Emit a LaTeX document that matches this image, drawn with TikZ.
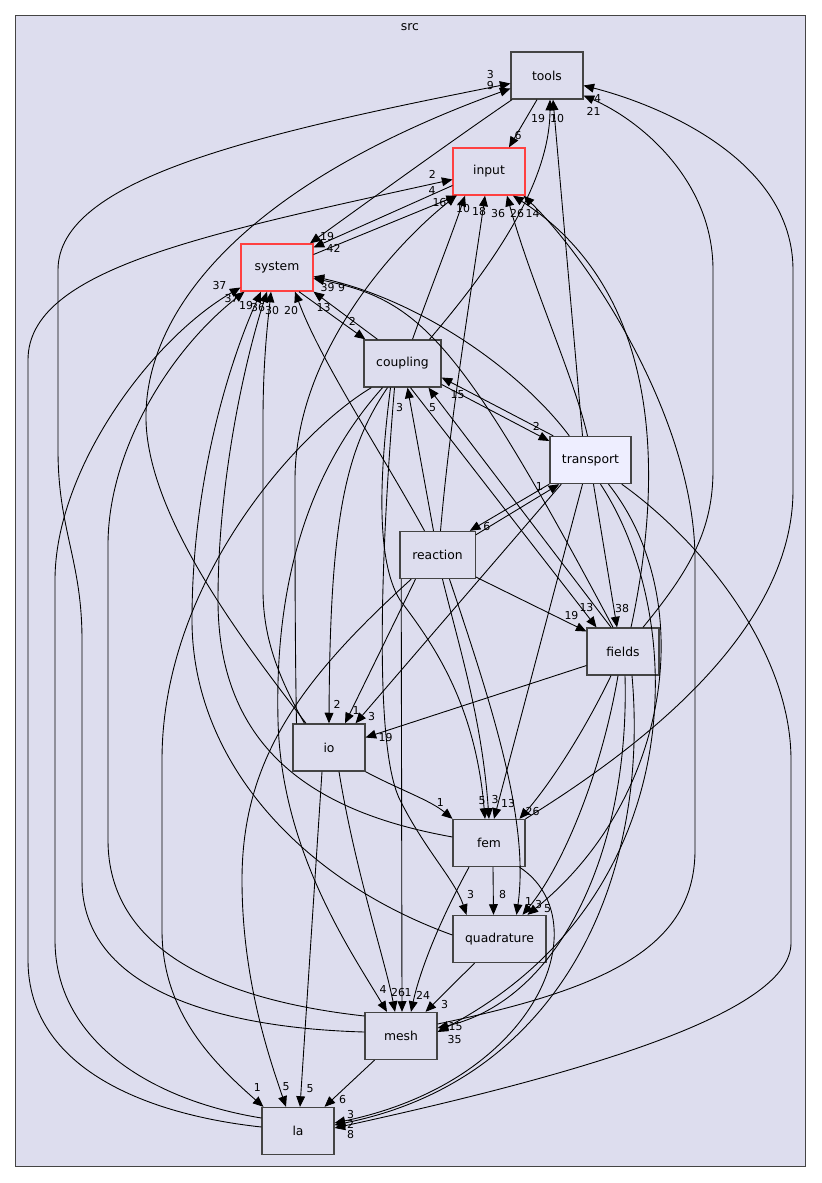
\documentclass[tikz,border=0pt]{standalone}
\usepackage{fontspec}
\setmainfont{DejaVu Sans}
\usepackage{xcolor}
\usepackage{tikz}
\usetikzlibrary{arrows.meta,calc}

\definecolor{srcfill}{HTML}{DDDDEE}
\definecolor{lightfill}{HTML}{EEEEFF}
\definecolor{boxgray}{HTML}{444444}
\definecolor{hotred}{HTML}{FF4040}

\begin{document}
\begin{tikzpicture}[
  x=0.85pt,y=-0.85pt,
  dirbox/.style={rectangle,draw=boxgray,fill=srcfill,line width=1.1pt,minimum width=61pt,minimum height=40pt,inner sep=0pt,font=\fontsize{10.5}{12}\selectfont},
  hotbox/.style={dirbox,draw=hotred},
  dep/.style={-{Triangle[length=9pt,width=7.5pt]},line width=0.75pt},
  lbl/.style={inner sep=0pt,font=\fontsize{9.3}{10}\selectfont},
]
\fill[white] (0,0) rectangle (821,1183);
\useasboundingbox (0,0) rectangle (821,1183);
\draw[boxgray,fill=srcfill,line width=0.8pt] (15,15) rectangle (805,1166);
\node[font=\fontsize{10.5}{12}\selectfont] (srclabel) at (410,27) {src};

\node[dirbox] (tools) at (547,75.5) {tools};
\node[hotbox] (input) at (489,171.5) {input};
\node[hotbox] (system) at (277,267.5) {system};
\node[dirbox,minimum width=65.5pt] (coupling) at (402.5,363.5) {coupling};
\node[dirbox,fill=lightfill,minimum width=69pt] (transport) at (590.5,460) {transport};
\node[dirbox,minimum width=64pt] (reaction) at (437.5,555) {reaction};
\node[dirbox] (fields) at (623,651.5) {fields};
\node[dirbox] (io) at (329,747.5) {io};
\node[dirbox] (fem) at (489,843) {fem};
\node[dirbox,minimum width=79pt] (quadrature) at (499.5,939) {quadrature};
\node[dirbox] (mesh) at (401,1036) {mesh};
\node[dirbox] (la) at (298,1131) {la};

% tools, input, system
\draw[dep] ($(tools.south)+(-10,0)$) -- ($(input.north)+(20,0)$) node[lbl,shift={(9,-12)}] {6};
\draw[dep] ($(tools.south)+(-35,0)$) .. controls (460,135) and (370,200) .. ($(system.north)+(33,0)$) node[lbl,shift={(17,-7)}] {19};
\draw[dep] ($(input.west)+(0,14)$) -- ($(system.east)+(0,-20)$) node[lbl,shift={(20,1)}] {42};
\draw[dep] ($(system.east)+(0,-13)$) -- ($(input.south)+(-32,0)$) node[lbl,shift={(-25,-5)}] {4};
\draw[dep] ($(system.south)+(22,0)$) -- ($(coupling.north west)+(2,0)$) node[lbl,shift={(-13,-18)}] {2};

% la, mesh
\draw[dep] ($(la.west)+(0,-4)$) .. controls (150,1115) and (28,1070) .. (28,960) -- (28,360) .. controls (28,270) and (200,235) .. ($(input.west)+(0,8)$) node[lbl,shift={(-20,-5)}] {2};
\draw[dep] ($(la.west)+(0,-13)$) .. controls (150,1100) and (55,1040) .. (55,940) -- (55,580) .. controls (55,470) and (150,340) .. ($(system.west)+(0,20)$) node[lbl,shift={(-21,-2)}] {37};
\draw[dep] ($(mesh.west)+(0,-4)$) .. controls (220,1028) and (82,990) .. (82,880) -- (82,640) .. controls (82,560) and (58,530) .. (58,450) -- (58,270) .. controls (58,180) and (250,135) .. ($(tools.west)+(0,8)$) node[lbl,shift={(-20,-9)}] {3};
\draw[dep] ($(mesh.west)+(0,-20)$) .. controls (220,1000) and (108,950) .. (108,840) -- (108,545) .. controls (108,450) and (170,350) .. ($(system.south west)+(4,0)$) node[lbl,shift={(-13,7)}] {37};
\draw[dep] ($(mesh.south west)+(10,0)$) -- ($(la.north east)+(-10,0)$) node[lbl,shift={(18,-7)}] {6};
\draw[dep] ($(mesh.east)+(0,-12)$) .. controls (600,990) and (695,950) .. (695,850) -- (695,560) .. controls (695,420) and (590,260) .. ($(input.south east)+(-2,0)$) node[lbl,shift={(9,18)}] {14};

% io
\draw[dep] ($(io.north)+(-23,0)$) .. controls (250,650) and (148,520) .. (146,420) .. controls (144,320) and (230,190) .. ($(tools.west)+(0,13)$) node[lbl,shift={(-20,-3)}] {9};
\draw[dep] ($(io.north west)+(4,0)$) .. controls (295,640) and (295,560) .. (295,480) .. controls (295,350) and (400,240) .. ($(input.south west)+(4,0)$) node[lbl,shift={(-17,7)}] {16};
\draw[dep] ($(io.north west)+(12,0)$) .. controls (280,680) and (263,640) .. (263,590) -- (263,420) .. controls (263,360) and (268,320) .. ($(system.south)+(-6,0)$) node[lbl,shift={(1,19)}] {30};
\draw[dep] (io.south east) .. controls (400,790) and (430,800) .. (fem.north west) node[lbl,shift={(-12,-16)}] {1};
\draw[dep] ($(io.south)+(10,0)$) .. controls (355,870) and (385,960) .. ($(mesh.north)+(-6,0)$) node[lbl,shift={(3,-19)}] {26};
\draw[dep] ($(io.south)+(-7,0)$) -- ($(la.north)+(2,0)$) node[lbl,shift={(10,-18)}] {5};

% fem, quadrature
\draw[dep] (fem.north east) .. controls (620,760) and (793,640) .. (793,490) -- (793,270) .. controls (793,160) and (660,105) .. ($(tools.east)+(0,10)$) node[lbl,shift={(14,13)}] {4};
\draw[dep] ($(fem.west)+(0,-6)$) .. controls (330,815) and (218,760) .. (218,600) .. controls (218,480) and (245,360) .. ($(system.south)+(-10,0)$) node[lbl,shift={(-9,16)}] {36};
\draw[dep] ($(fem.south)+(4,0)$) -- ($(quadrature.north)+(-6,0)$) node[lbl,shift={(9,-20)}] {8};
\draw[dep] ($(fem.south)+(-20,0)$) .. controls (440,920) and (420,970) .. ($(mesh.north)+(10,0)$) node[lbl,shift={(12,-16)}] {24};
\draw[dep] ($(fem.south east)+(-6,0)$) .. controls (600,920) and (540,1080) .. ($(la.east)+(0,-8)$) node[lbl,shift={(16,-8)}] {3};
\draw[dep] ($(quadrature.west)+(0,-4)$) .. controls (300,880) and (192,760) .. (192,620) .. controls (192,480) and (230,360) .. ($(system.south)+(-16,0)$) node[lbl,shift={(-15,14)}] {19};
\draw[dep] ($(quadrature.south)+(-25,0)$) -- ($(mesh.north east)+(-12,0)$) node[lbl,shift={(19,-7)}] {3};

% coupling
\draw[dep] ($(coupling.north)+(27,0)$) .. controls (480,280) and (550,190) .. ($(tools.south)+(3,0)$) node[lbl,shift={(7,19)}] {10};
\draw[dep] ($(coupling.north)+(-25,0)$) -- (system.south east) node[lbl,shift={(10,16)}] {13};
\draw[dep] ($(coupling.north)+(10,0)$) .. controls (430,290) and (450,240) .. ($(input.south)+(-24,0)$) node[lbl,shift={(-2,13)}] {10};
\draw[dep] ($(coupling.east)+(0,21)$) -- ($(transport.west)+(0,-19)$) node[lbl,shift={(-13,-15)}] {2};
\draw[dep] ($(coupling.south)+(8,0)$) -- ($(fields.north west)+(10,0)$) node[lbl,shift={(-10,-20)}] {13};
\draw[dep] ($(coupling.south)+(-15,0)$) .. controls (345,450) and (330,520) .. (io.north) node[lbl,shift={(8,-19)}] {2};
\draw[dep] ($(coupling.south west)+(8,0)$) .. controls (300,430) and (162,580) .. (162,760) -- (162,930) .. controls (162,1010) and (210,1060) .. ($(la.north west)+(2,0)$) node[lbl,shift={(-6,-19)}] {1};
\draw[dep] ($(coupling.south)+(-20,0)$) .. controls (300,480) and (275,600) .. (278,720) .. controls (281,850) and (350,950) .. ($(mesh.north)+(-14,0)$) node[lbl,shift={(-4,-22)}] {4};
\draw[dep] ($(coupling.south)+(-12,0)$) .. controls (380,470) and (375,560) .. (400,600) .. controls (430,640) and (475,700) .. ($(fem.north)+(-4,0)$) node[lbl,shift={(-3,-18)}] {5};
\draw[dep] ($(coupling.south)+(-8,0)$) .. controls (385,500) and (370,740) .. (400,800) .. controls (425,850) and (455,880) .. ($(quadrature.north)+(-33,0)$) node[lbl,shift={(4,-20)}] {3};

% transport
\draw[dep] ($(transport.north)+(-8,0)$) -- ($(tools.south)+(6,0)$) node[lbl,shift={(-15,19)}] {19};
\draw[dep] ($(transport.north)+(-3,0)$) .. controls (575,380) and (530,280) .. ($(input.south)+(18,0)$) node[lbl,shift={(-9,18)}] {36};
\draw[dep] ($(transport.north west)+(20,0)$) .. controls (520,370) and (420,300) .. ($(system.east)+(0,9)$) node[lbl,shift={(14,11)}] {39};
\draw[dep] ($(transport.north west)+(4,0)$) -- ($(coupling.east)+(0,14)$) node[lbl,shift={(16,17)}] {15};
\draw[dep] (transport.south west) -- ($(reaction.north east)+(-6,0)$) node[lbl,shift={(17,-4)}] {6};
\draw[dep] ($(transport.south)+(3,0)$) -- ($(fields.north)+(-6,0)$) node[lbl,shift={(5,-19)}] {38};
\draw[dep] ($(transport.south west)+(12,0)$) -- ($(io.north east)+(-10,0)$) node[lbl,shift={(16,-7)}] {3};
\draw[dep] ($(transport.south)+(-8,0)$) -- ($(fem.north)+(5,0)$) node[lbl,shift={(14,-15)}] {13};
\draw[dep] ($(transport.south)+(18,0)$) .. controls (700,600) and (670,800) .. ($(quadrature.north)+(28,0)$) node[lbl,shift={(20,-6)}] {5};
\draw[dep] ($(transport.south)+(10,0)$) .. controls (690,620) and (690,900) .. ($(mesh.east)+(0,-4)$) node[lbl,shift={(17,8)}] {35};
\draw[dep] ($(transport.south east)+(-10,0)$) .. controls (700,540) and (791,650) .. (791,760) -- (791,943) .. controls (791,1010) and (600,1070) .. ($(la.east)+(0,-3)$) node[lbl,shift={(16,7)}] {8};

% reaction
\draw[dep] ($(reaction.north)+(-13,0)$) .. controls (380,450) and (320,360) .. ($(system.south)+(18,0)$) node[lbl,shift={(-4,19)}] {20};
\draw[dep] ($(reaction.north)+(3,0)$) .. controls (450,420) and (470,300) .. ($(input.south)+(-4,0)$) node[lbl,shift={(-6,16)}] {18};
\draw[dep] ($(reaction.north)+(-4,0)$) -- ($(coupling.south)+(5,0)$) node[lbl,shift={(-8,20)}] {3};
\draw[dep] ($(reaction.north east)+(0,4)$) -- ($(transport.south west)+(10,0)$) node[lbl,shift={(-20,2)}] {1};
\draw[dep] ($(reaction.east)+(0,22)$) -- ($(fields.west)+(0,-20)$) node[lbl,shift={(-15,-16)}] {19};
\draw[dep] ($(reaction.south)+(-22,0)$) -- ($(io.north)+(16,0)$) node[lbl,shift={(11,-13)}] {1};
\draw[dep] ($(reaction.south)+(5,0)$) .. controls (460,650) and (482,720) .. (fem.north) node[lbl,shift={(6,-19)}] {3};
\draw[dep] ($(reaction.south)+(12,0)$) .. controls (490,700) and (530,820) .. ($(quadrature.north)+(17,0)$) node[lbl,shift={(12,-13)}] {1};
\draw[dep] ($(reaction.south west)+(2,0)$) -- ($(mesh.north)+(1,0)$) node[lbl,shift={(6,-19)}] {1};
\draw[dep] ($(reaction.south west)+(12,0)$) .. controls (300,680) and (242,760) .. (242,880) .. controls (242,980) and (270,1060) .. ($(la.north)+(-12,0)$) node[lbl,shift={(0,-20)}] {5};

% fields
\draw[dep] ($(fields.north)+(20,0)$) .. controls (690,570) and (713,530) .. (713,470) -- (713,270) .. controls (713,180) and (640,120) .. ($(tools.east)+(0,20)$) node[lbl,shift={(10,16)}] {21};
\draw[dep] ($(fields.north)+(8,0)$) .. controls (665,470) and (660,290) .. ($(input.south)+(24,0)$) node[lbl,shift={(4,18)}] {26};
\draw[dep] ($(fields.north)+(-10,0)$) .. controls (460,340) and (420,300) .. ($(system.east)+(0,11)$) node[lbl,shift={(28,9)}] {9};
\draw[dep] ($(fields.north)+(-12,0)$) -- ($(coupling.south)+(26,0)$) node[lbl,shift={(4,20)}] {5};
\draw[dep] ($(fields.west)+(0,14)$) -- ($(io.east)+(0,-10)$) node[lbl,shift={(20,0)}] {19};
\draw[dep] ($(fields.south)+(-12,0)$) .. controls (580,740) and (545,790) .. ($(fem.north east)+(-6,0)$) node[lbl,shift={(13,-7)}] {26};
\draw[dep] ($(fields.south)+(-5,0)$) .. controls (600,780) and (560,870) .. ($(quadrature.north)+(23,0)$) node[lbl,shift={(16,-10)}] {3};
\draw[dep] ($(fields.south)+(2,0)$) .. controls (630,850) and (560,1000) .. ($(mesh.east)+(0,-8)$) node[lbl,shift={(18,-1)}] {15};
\draw[dep] ($(fields.south)+(9,0)$) .. controls (650,880) and (560,1080) .. ($(la.east)+(0,-6)$) node[lbl,shift={(16,-1)}] {2};
\end{tikzpicture}
\end{document}
